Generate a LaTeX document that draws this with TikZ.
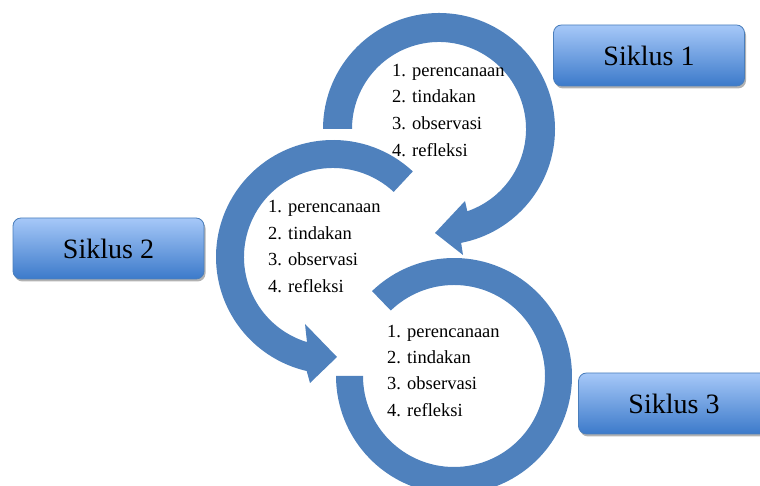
\documentclass[tikz,border=0pt]{standalone}
\usepackage{fontspec}
\setmainfont{Liberation Serif}
\usetikzlibrary{shadows}
\definecolor{ringblue}{RGB}{79,129,189}
\definecolor{boxtop}{RGB}{166,200,248}
\definecolor{boxmid}{RGB}{122,168,232}
\definecolor{boxbot}{RGB}{60,122,202}
\definecolor{boxline}{RGB}{74,126,187}
\begin{document}
\begin{tikzpicture}[x=1pt,y=1pt,
  ring/.style={fill=ringblue, draw=none},
  listtext/.style={anchor=base west, inner sep=0pt, font=\fontsize{18.5}{22}\selectfont},
  sikbox/.style={rounded corners=8pt, draw=boxline, line width=0.8pt,
    top color=boxtop, middle color=boxmid, bottom color=boxbot,
    minimum width=191pt, minimum height=61pt, inner sep=0pt,
    drop shadow={shadow xshift=1.5pt, shadow yshift=-2.5pt, fill=black, opacity=0.3},
    font=\fontsize{28}{33}\selectfont}]
\useasboundingbox (0,0) rectangle (760,486);
\clip (0,0) rectangle (760,486);
\coordinate (c1) at (439,357);
\coordinate (c2) at (333,229);
\coordinate (c3) at (454,110);
% cycle arrow 1
\path[ring] ([shift={(180:116)}]c1) arc[start angle=180,end angle=-79,radius=116]
  -- (463,231) -- (435,253) -- (465,285) -- ([shift={(-71:87)}]c1)
  arc[start angle=-71,end angle=180,radius=87] -- cycle;
% cycle arrow 2
\path[ring] ([shift={(47:117)}]c2) arc[start angle=47,end angle=257,radius=117]
  -- (310,103) -- (337,129) -- (305,162) -- ([shift={(253:89)}]c2)
  arc[start angle=253,end angle=47,radius=89] -- cycle;
% cycle ring 3
\path[ring] ([shift={(134:118)}]c3) arc[start angle=134,end angle=-180,radius=118]
  -- ([shift={(180:91)}]c3) arc[start angle=-180,end angle=134,radius=91] -- cycle;
% lists
\node[listtext] (a1) at (392,409) {1. perencanaan};
\node[listtext] (a2) at (392,383) {2. tindakan};
\node[listtext] (a3) at (392,356) {3. observasi};
\node[listtext] (a4) at (392,329) {4. refleksi};
\node[listtext] (b1) at (268,273) {1. perencanaan};
\node[listtext] (b2) at (268,246) {2. tindakan};
\node[listtext] (b3) at (268,220) {3. observasi};
\node[listtext] (b4) at (268,193) {4. refleksi};
\node[listtext] (d1) at (387,148) {1. perencanaan};
\node[listtext] (d2) at (387,122) {2. tindakan};
\node[listtext] (d3) at (387,96) {3. observasi};
\node[listtext] (d4) at (387,69) {4. refleksi};
% boxes
\node[sikbox] (s1) at (649,430.5) {Siklus 1};
\node[sikbox] (s2) at (108.5,237.5) {Siklus 2};
\node[sikbox] (s3) at (674,82.5) {Siklus 3};
\end{tikzpicture}
\end{document}
